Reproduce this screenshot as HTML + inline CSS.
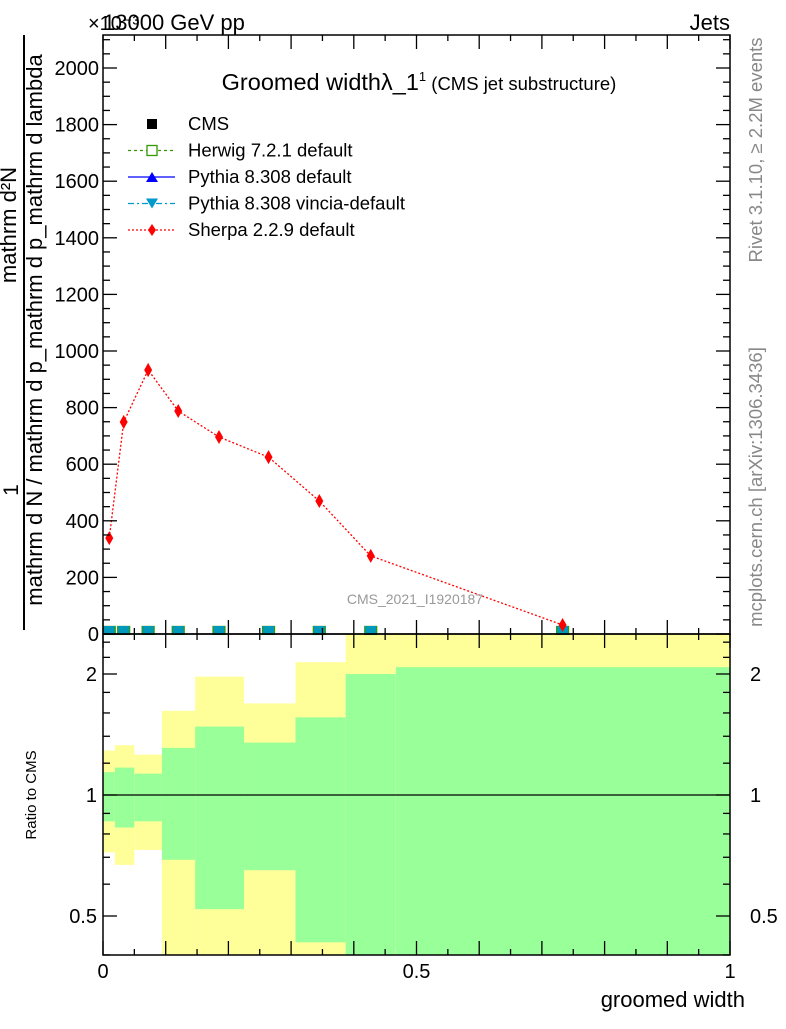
<!DOCTYPE html>
<html><head><meta charset="utf-8"><style>
body{margin:0;background:#fff;font-family:"Liberation Sans",sans-serif}
svg text{font-family:"Liberation Sans","DejaVu Sans",sans-serif}
</style></head><body>
<svg id="c" width="786" height="1024" viewBox="0 0 786 1024" xmlns="http://www.w3.org/2000/svg">
<g id="bands"></g>
<g id="main"></g>
<g id="axes"></g>
<text x="103" y="30" font-size="22">13000 GeV pp</text>
<text x="88" y="30" font-size="20">×10⁻³</text>
<text x="730" y="30" font-size="22" text-anchor="end">Jets</text>
<text x="419" y="90" font-size="23.5" text-anchor="middle">Groomed widthλ_1<tspan font-size="13" dy="-9">1</tspan><tspan font-size="18.5" dy="9"> (CMS jet substructure)</tspan></text>
<text x="415" y="604" font-size="14" fill="#999" text-anchor="middle">CMS_2021_I1920187</text>
<text transform="translate(762,150) rotate(-90)" font-size="18.5" fill="#888" text-anchor="middle">Rivet 3.1.10, ≥ 2.2M events</text>
<text transform="translate(762,487) rotate(-90)" font-size="18.5" fill="#888" text-anchor="middle">mcplots.cern.ch [arXiv:1306.3436]</text>
<text transform="translate(18,490) rotate(-90)" font-size="21" text-anchor="middle">1</text>
<line x1="24" y1="35" x2="24" y2="630" stroke="#000" stroke-width="2"/>
<text transform="translate(16,225) rotate(-90)" font-size="22" text-anchor="middle">mathrm d²N</text>
<text transform="translate(42,330) rotate(-90)" font-size="22" text-anchor="middle">mathrm d N / mathrm d p_mathrm d p_mathrm d lambda</text>
<text transform="translate(36,795) rotate(-90)" font-size="15" text-anchor="middle">Ratio to CMS</text>
<text x="745" y="1007" font-size="22" text-anchor="end">groomed width</text>
<g id="legend"></g>
</svg>
<script>
const xs=[0.01,0.033,0.072,0.12,0.185,0.264,0.345,0.427,0.733];
const sherpa=[339,749,933,788,696,625,470,276,32];
const sherpaErr=[20,22,22,18,14,12,10,10,8];
const mcVals=[2,2,2,2,2,2,2,2,2];
const edges=[0,0.019,0.05,0.094,0.147,0.225,0.307,0.387,0.467,1.0];
const yelLo=[0.72,0.67,0.73,0.3,0.3,0.3,0.3,0.3,0.3];
const yelHi=[1.29,1.33,1.26,1.62,1.97,1.69,2.14,3,3];
const grnLo=[0.86,0.83,0.86,0.69,0.52,0.65,0.43,0.3,0.3];
const grnHi=[1.14,1.17,1.13,1.31,1.48,1.35,1.56,2.0,2.08];
const yTicks=[0,200,400,600,800,1000,1200,1400,1600,1800,2000];
const xTicks=[0,0.5,1];
const rTicks=[0.5,1,2];
const NS="http://www.w3.org/2000/svg";
const L=103,R=730,T=35,MB=634,RB=955;
const X=v=>L+v*(R-L);
const Y=v=>MB-v*0.283;
const RY=v=>Math.min(RB,Math.max(MB,795-121*Math.log2(v)));
function mk(tag,attrs,parent){const e=document.createElementNS(NS,tag);for(const k in attrs)e.setAttribute(k,attrs[k]);parent.appendChild(e);return e;}
const bands=document.getElementById('bands'),main=document.getElementById('main'),axes=document.getElementById('axes'),leg=document.getElementById('legend');
for(let i=0;i<xs.length;i++){
  const x0=X(edges[i]),x1=X(edges[i+1]);
  const y=mk('rect',{x:x0,y:RY(yelHi[i]),width:x1-x0,height:RY(yelLo[i])-RY(yelHi[i]),fill:'#ffff99'},bands);
  
  
  const g=mk('rect',{x:x0,y:RY(grnHi[i]),width:x1-x0,height:RY(grnLo[i])-RY(grnHi[i]),fill:'#99ff99'},bands);
  
  
}
mk('line',{x1:L,x2:R,y1:RY(1),y2:RY(1),stroke:'#000','stroke-width':1.3},bands);
mk('polyline',{points:xs.map((v,i)=>X(v)+','+Y(sherpa[i])).join(' '),fill:'none',stroke:'#f00','stroke-width':1.3,'stroke-dasharray':'2,2'},main);
for(let i=0;i<xs.length;i++){
  const cx=X(xs[i]);
  const s=mk('rect',{x:cx-6,y:Y(mcVals[i])-7,width:12,height:8,fill:'#0099bb',stroke:'#339900','stroke-width':1.2},main);
  
  
  const t=mk('path',{d:`M${cx-6},${MB-8}h12l-6,9z`,fill:'#0099bb'},main);
  
  
  const cy=Y(sherpa[i]);
  mk('line',{x1:cx,x2:cx,y1:Y(sherpa[i]+sherpaErr[i]),y2:Y(sherpa[i]-sherpaErr[i]),stroke:'#f00','stroke-width':1.3},main);
  const d=mk('path',{d:`M${cx},${cy-7}l4,7l-4,7l-4,-7z`,fill:'#f00'},main);
  
  
}
mk('rect',{x:L,y:T,width:R-L,height:MB-T,fill:'none',stroke:'#000','stroke-width':1.5},axes);
mk('rect',{x:L,y:MB,width:R-L,height:RB-MB,fill:'none',stroke:'#000','stroke-width':1.5},axes);
for(let v=0;v<=2100;v+=50){const y=Y(v);const len=v%200===0?14:7;mk('line',{x1:L,x2:L+len,y1:y,y2:y,stroke:'#000','stroke-width':1.3},axes);mk('line',{x1:R,x2:R-len,y1:y,y2:y,stroke:'#000','stroke-width':1.3},axes);}
yTicks.forEach(v=>{const t=mk('text',{x:L-4,y:Y(v)+7,'font-size':20,'text-anchor':'end'},axes);t.textContent=v;});
for(let k=0;k<=20;k++){const v=k*0.05,x=X(v),len=k%2===0?14:6;
  mk('line',{x1:x,x2:x,y1:MB,y2:MB-len,stroke:'#000','stroke-width':1.3},axes);
  mk('line',{x1:x,x2:x,y1:T,y2:T+len,stroke:'#000','stroke-width':1.3},axes);
  mk('line',{x1:x,x2:x,y1:RB,y2:RB-len,stroke:'#000','stroke-width':1.3},axes);
  mk('line',{x1:x,x2:x,y1:MB,y2:MB+len,stroke:'#000','stroke-width':1.3},axes);}
xTicks.forEach(v=>{const t=mk('text',{x:X(v),y:978,'font-size':20,'text-anchor':'middle'},axes);t.textContent=v;});
[0.4,0.5,0.6,0.7,0.8,0.9,1,1.2,1.4,1.6,1.8,2,2.2,2.4].forEach(v=>{const y=RY(v);const len=(v===0.5||v===1||v===2)?14:7;mk('line',{x1:L,x2:L+len,y1:y,y2:y,stroke:'#000','stroke-width':1.3},axes);mk('line',{x1:R,x2:R-len,y1:y,y2:y,stroke:'#000','stroke-width':1.3},axes);});
rTicks.forEach(v=>{const s=String(v);const a=mk('text',{x:L-6,y:RY(v)+7,'font-size':20,'text-anchor':'end'},axes);a.textContent=s;const b=mk('text',{x:R+20,y:RY(v)+7,'font-size':20},axes);b.textContent=s;});
const entries=[['CMS','#000','none','sq'],['Herwig 7.2.1 default','#339900','3,3','osq'],['Pythia 8.308 default','#0000ff','none','tri'],['Pythia 8.308 vincia-default','#0099cc','6,3,2,3','itri'],['Sherpa 2.2.9 default','#f00','2,2','dia']];
entries.forEach((e,i)=>{const y=124+i*26.5,cx=152;
  if(i>0)mk('line',{x1:128,x2:175,y1:y,y2:y,stroke:e[1],'stroke-width':1.3,'stroke-dasharray':e[2]},leg);
  if(e[3]==='sq')mk('rect',{x:cx-5,y:y-5,width:10,height:10,fill:'#000'},leg);
  if(e[3]==='osq')mk('rect',{x:cx-5,y:y-5,width:10,height:10,fill:'#fff',stroke:e[1],'stroke-width':1.3},leg);
  if(e[3]==='tri')mk('path',{d:`M${cx-6},${y+5}h12l-6,-10z`,fill:e[1]},leg);
  if(e[3]==='itri')mk('path',{d:`M${cx-6},${y-5}h12l-6,10z`,fill:e[1]},leg);
  if(e[3]==='dia')mk('path',{d:`M${cx},${y-6}l4,6l-4,6l-4,-6z`,fill:e[1]},leg);
  const t=mk('text',{x:188,y:y+6,'font-size':18.5},leg);t.textContent=e[0];
  
  
});
</script>
</body></html>
